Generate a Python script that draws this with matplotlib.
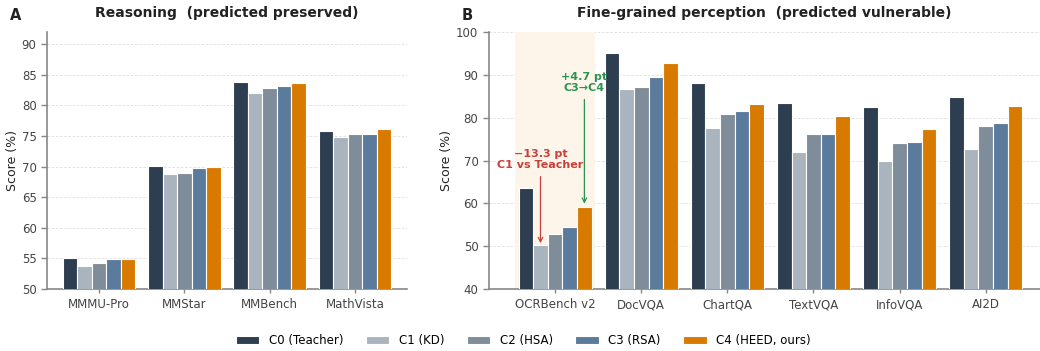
import matplotlib
matplotlib.use("Agg")
import matplotlib.pyplot as plt
import numpy as np

plt.rcParams['font.family'] = ['DejaVu Sans']

configs = ["C0 (Teacher)", "C1 (KD)", "C2 (HSA)", "C3 (RSA)", "C4 (HEED, ours)"]
colors = ["#2c3e50", "#aab4be", "#7f8c99", "#5b7b9c", "#d97a00"]

reason_cats = ["MMMU-Pro", "MMStar", "MMBench", "MathVista"]
reason_vals = {
    "C0": [55.1, 70.1, 83.9, 75.9],
    "C1": [53.8, 68.8, 82.0, 74.8],
    "C2": [54.3, 69.0, 82.8, 75.3],
    "C3": [54.9, 69.7, 83.2, 75.4],
    "C4": [54.9, 70.0, 83.6, 76.1],
}

percep_cats = ["OCRBench v2", "DocVQA", "ChartQA", "TextVQA", "InfoVQA", "AI2D"]
percep_vals = {
    "C0": [63.6, 95.2, 88.0, 83.5, 82.6, 84.9],
    "C1": [50.3, 86.7, 77.7, 72.1, 70.0, 72.6],
    "C2": [52.9, 87.1, 80.8, 76.3, 74.2, 78.1],
    "C3": [54.4, 89.4, 81.6, 76.1, 74.4, 78.8],
    "C4": [59.1, 92.7, 83.2, 80.4, 77.4, 82.8],
}

keys = ["C0", "C1", "C2", "C3", "C4"]
bar_w = 0.17

fig = plt.figure(figsize=(10.4, 3.51), dpi=100)
axA = fig.add_axes([0.0452, 0.1766, 0.3462, 0.7322])
axB = fig.add_axes([0.470, 0.1766, 0.530, 0.7322])


def draw_panel(ax, cats, vals, ylim, yticks):
    x = np.arange(len(cats))
    bars = []
    for i, k in enumerate(keys):
        b = ax.bar(x + (i - 2) * bar_w, vals[k], width=bar_w, color=colors[i],
                   edgecolor="white", linewidth=0.8, zorder=3, label=configs[i])
        bars.append(b)
    ax.set_xticks(x)
    ax.set_xticklabels(cats, fontsize=8.5, color="#444444")
    ax.set_ylim(*ylim)
    ax.set_yticks(yticks)
    ax.tick_params(axis="y", labelsize=8.5, colors="#444444", length=4, width=1, color="#888888")
    ax.tick_params(axis="x", length=3, width=1, color="#888888")
    ax.set_ylabel("Score (%)", fontsize=9, color="#222222", labelpad=2)
    for s in ["top", "right"]:
        ax.spines[s].set_visible(False)
    for s in ["left", "bottom"]:
        ax.spines[s].set_color("#888888")
        ax.spines[s].set_linewidth(1.2)
    ax.yaxis.grid(True, linestyle=(0, (3, 2)), color="#dddddd", linewidth=0.6, zorder=0)
    ax.set_axisbelow(True)
    return bars


bars = draw_panel(axA, reason_cats, reason_vals, (50, 92), np.arange(50, 91, 5))
axA.set_xlim(-0.61, 3.61)
axA.set_title("Reasoning  (predicted preserved)", fontsize=10, fontweight="bold",
              color="#222222", pad=11)

draw_panel(axB, percep_cats, percep_vals, (40, 100), np.arange(40, 101, 10))
axB.set_xlim(-0.77, 5.63)
axB.set_title("Fine-grained perception  (predicted vulnerable)", fontsize=10,
              fontweight="bold", color="#222222", pad=11)

# highlight the most affected benchmark
axB.axvspan(-0.47, 0.46, color="#fdf5ea", zorder=1, linewidth=0)

# drop from teacher to KD baseline
c1_drop = percep_vals["C0"][0] - percep_vals["C1"][0]
axB.annotate(f"\u2212{c1_drop:.1f} pt\nC1 vs Teacher",
             xy=(-1 * bar_w, percep_vals["C1"][0] + 0.4),
             xytext=(-1 * bar_w, 70.3), ha="center", va="center",
             fontsize=8, fontweight="bold", color="#c8403a", linespacing=1.1,
             arrowprops=dict(arrowstyle="->", color="#c8403a", lw=0.9,
                             shrinkA=3, shrinkB=0), zorder=5)

# gain from RSA to HEED
c4_gain = percep_vals["C4"][0] - percep_vals["C3"][0]
axB.annotate(f"+{c4_gain:.1f} pt\nC3\u2192C4",
             xy=(2 * bar_w, percep_vals["C4"][0] + 0.8),
             xytext=(2 * bar_w, 88.3), ha="center", va="center",
             fontsize=8, fontweight="bold", color="#2e9350", linespacing=1.1,
             arrowprops=dict(arrowstyle="->", color="#2e9350", lw=0.9,
                             shrinkA=3, shrinkB=0), zorder=5)

fig.text(0.0096, 0.955, "A", fontsize=10.5, fontweight="bold", color="#222222",
         va="center", ha="left")
fig.text(0.4435, 0.955, "B", fontsize=10.5, fontweight="bold", color="#222222",
         va="center", ha="left")

fig.legend(handles=bars, labels=configs, loc="lower center",
           bbox_to_anchor=(0.503, -0.02), ncol=5, frameon=False, fontsize=8.5,
           handlelength=2.0, handleheight=0.7, columnspacing=1.9)

fig.savefig("out.png", dpi=100)
